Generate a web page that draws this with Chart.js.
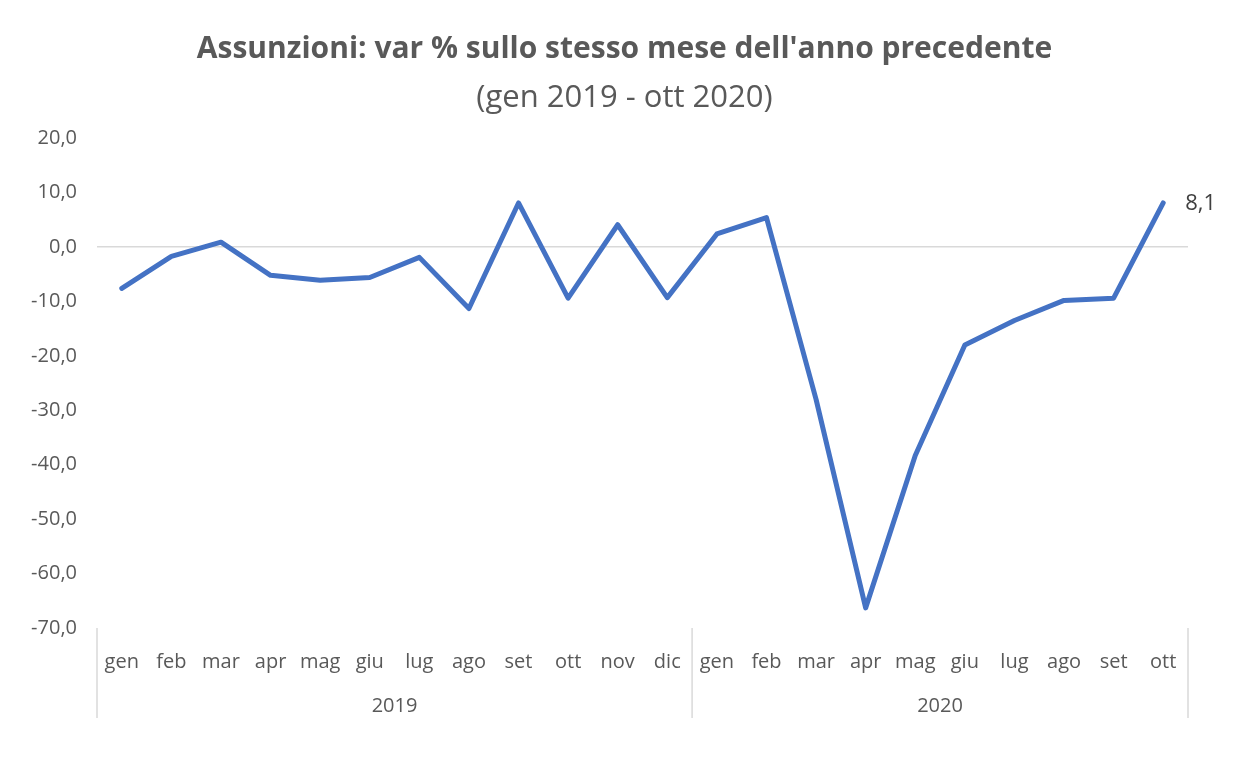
<!DOCTYPE html>
<html>
<head>
<meta charset="utf-8">
<script src="https://cdn.jsdelivr.net/npm/chart.js@4"></script>
<style>
  html, body { margin: 0; padding: 0; background: #fff; }
  #wrap { width: 1249px; height: 764px; }
</style>
</head>
<body>
<div id="wrap"><canvas id="assunzioniChart"></canvas></div>
<script>
// dati
const mesi = ['gen', 'feb', 'mar', 'apr', 'mag', 'giu', 'lug', 'ago', 'set', 'ott', 'nov', 'dic',
              'gen', 'feb', 'mar', 'apr', 'mag', 'giu', 'lug', 'ago', 'set', 'ott'];
const anni = ['2019', '2020'];
const mesiPerAnno = [12, 10];
const variazioni = [-7.6, -1.7, 0.9, -5.2, -6.1, -5.6, -1.9, -11.3, 8.1, -9.4, 4.1, -9.3,
                    2.4, 5.4, -28.0, -66.3, -38.3, -18.0, -13.5, -9.8, -9.4, 8.1];

const grigio = '#595959';
const font = '"Open Sans", "Noto Sans", sans-serif';

// etichette degli anni e separatori sotto l'asse x
const assePlugin = {
    id: 'asseAnni',
    afterDraw(chart) {
        const ctx = chart.ctx;
        const x = chart.scales.x;
        const area = chart.chartArea;
        const passo = (area.right - area.left) / mesi.length;
        ctx.save();
        ctx.strokeStyle = '#d9d9d9';
        ctx.lineWidth = 1.5;
        let inizio = 0;
        const bordi = [area.left];
        anni.forEach((anno, i) => {
            const fine = inizio + mesiPerAnno[i] - 1;
            const xa = x.getPixelForValue(inizio) - passo / 2;
            const xb = x.getPixelForValue(fine) + passo / 2;
            bordi.push(xb);
            ctx.fillStyle = grigio;
            ctx.font = '20px ' + font;
            ctx.textAlign = 'center';
            ctx.textBaseline = 'middle';
            ctx.fillText(anno, (xa + xb) / 2, 706);
            inizio = fine + 1;
        });
        bordi.forEach(b => {
            ctx.beginPath();
            ctx.moveTo(b, area.bottom);
            ctx.lineTo(b, 718);
            ctx.stroke();
        });
        // etichetta ultimo valore
        const meta = chart.getDatasetMeta(0);
        const ultimo = meta.data[meta.data.length - 1];
        ctx.fillStyle = '#404040';
        ctx.font = '22px ' + font;
        ctx.textAlign = 'left';
        ctx.fillText(variazioni[variazioni.length - 1].toFixed(1).replace('.', ','), ultimo.x + 22, ultimo.y + 1);
        ctx.restore();
    }
};

const ctx = document.getElementById('assunzioniChart').getContext('2d');
new Chart(ctx, {
    type: 'line',
    data: {
        labels: mesi,
        datasets: [{
            data: variazioni,
            borderColor: '#4472c4',
            borderWidth: 5,
            borderCapStyle: 'round',
            borderJoinStyle: 'round',
            pointRadius: 0,
            tension: 0,
            fill: false
        }]
    },
    options: {
        responsive: true,
        maintainAspectRatio: false,
        animation: false,
        layout: { padding: 0 },
        plugins: {
            legend: { display: false },
            tooltip: { enabled: false },
            title: {
                display: true,
                text: "Assunzioni: var % sullo stesso mese dell'anno precedente",
                color: grigio,
                font: { family: font, size: 30, weight: 'bold' },
                padding: { top: 31, bottom: 6 }
            },
            subtitle: {
                display: true,
                text: '(gen 2019 - ott 2020)',
                color: grigio,
                font: { family: font, size: 31, weight: 'normal' },
                padding: { top: 7, bottom: 21 }
            }
        },
        scales: {
            x: {
                offset: true,
                grid: { display: false },
                border: { display: false },
                ticks: {
                    color: grigio,
                    font: { family: font, size: 20 },
                    padding: 14,
                    maxRotation: 0,
                    autoSkip: false
                },
                afterFit(scale) { scale.height = 136; }
            },
            y: {
                min: -70,
                max: 20,
                border: { display: false },
                grid: {
                    drawTicks: false,
                    color: c => c.tick.value === 0 ? '#d9d9d9' : 'rgba(0,0,0,0)',
                    lineWidth: 1.5
                },
                ticks: {
                    stepSize: 10,
                    color: grigio,
                    font: { family: font, size: 20 },
                    padding: 20,
                    callback: v => v.toFixed(1).replace('.', ',')
                },
                afterFit(scale) { scale.width = 97; }
            },
            // asse vuoto a destra: lascia spazio all'etichetta 8,1
            destra: {
                position: 'right',
                display: true,
                grid: { display: false },
                border: { display: false },
                ticks: { display: false },
                afterFit(scale) { scale.width = 61; }
            }
        }
    },
    plugins: [assePlugin]
});
</script>
</body>
</html>
